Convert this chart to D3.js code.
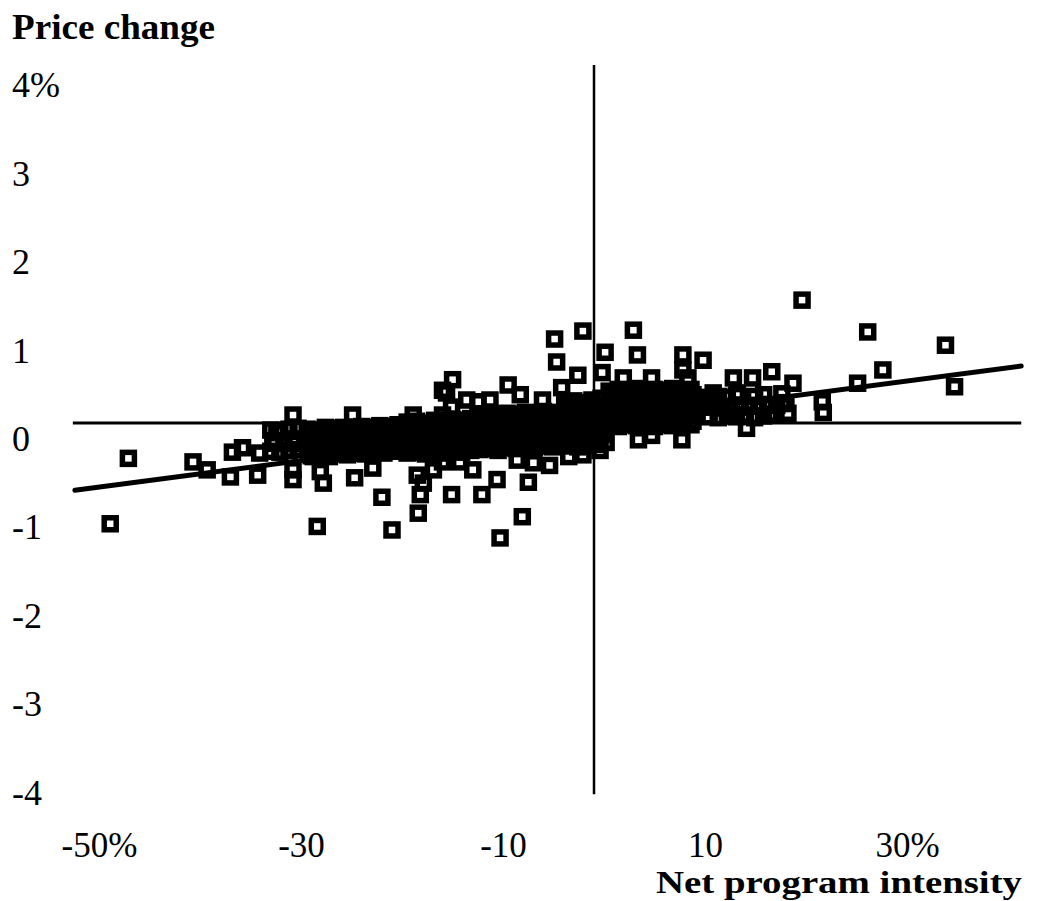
<!DOCTYPE html>
<html lang="en">
<head>
<meta charset="UTF-8">
<title>Price change vs net program intensity</title>
<style>
    html, body { margin: 0; padding: 0; background: #fff; }
    svg { display: block; font-family: "Liberation Serif", "Times New Roman", serif; }
</style>
</head>
<body>
<svg id="svg" width="1044" height="901"></svg>
<script src="https://d3js.org/d3.v7.min.js"></script>
<script>
// axis ticks
const xTicks = [-50, -30, -10, 10, 30]
const xTickLabels = ['-50%', '-30', '-10', '10', '30%']
const yTicks = [4, 3, 2, 1, 0, -1, -2, -3, -4]
const yTickLabels = ['4%', '3', '2', '1', '0', '-1', '-2', '-3', '-4']

// fitted line ends [intensity, price change]
const fitLine = [[-51.4, -0.76], [42.3, 0.645]]

const outliers = [
    [-47.9, -1.14], [-46.1, -0.40], [-39.7, -0.44], [-38.3, -0.53], [-35.8, -0.33], [-34.8, -0.28],
    [-33.1, -0.34], [-36.0, -0.61], [-33.3, -0.59], [-31.4, -0.11], [-31.8, -0.23], [-29.8, 0.09],
    [-29.8, -0.23], [-29.8, -0.53], [-29.8, -0.64], [-27.8, -0.38], [-27.1, -0.55], [-26.8, -0.68],
    [-27.4, -1.17], [-23.9, 0.09], [-24.2, -0.34], [-23.7, -0.62], [-21.9, -0.51], [-21.0, -0.84],
    [-20.0, -1.21], [-17.9, 0.09], [-15.0, 0.37], [-15.0, 0.09], [-17.4, -1.02], [-17.2, -0.81],
    [-17.5, -0.59], [-16.9, -0.68], [-15.9, -0.53], [-15.0, -0.44], [-14.0, 0.49], [-14.6, 0.34],
    [-14.1, 0.18], [-12.6, 0.26], [-11.5, 0.24], [-10.3, 0.26], [-8.5, 0.43], [-7.3, 0.32],
    [-5.1, 0.26], [-3.9, 0.95], [-1.1, 1.04], [-3.7, 0.69], [-3.2, 0.40], [-1.6, 0.54],
    [0.8, 0.57], [1.1, 0.80], [-13.3, -0.44], [-12.0, -0.53], [-14.1, -0.81], [-11.1, -0.81],
    [-9.6, -0.64], [-6.5, -0.67], [-7.1, -1.06], [-9.3, -1.30], [-7.6, -0.42], [-6.0, -0.45],
    [-4.4, -0.48], [0.6, -0.31], [-1.1, -0.36], [-2.5, -0.38], [3.9, 1.05], [4.3, 0.77],
    [8.8, 0.77], [10.8, 0.71], [8.8, 0.60], [9.3, 0.51], [2.9, 0.51], [5.7, 0.51],
    [17.6, 0.58], [13.8, 0.51], [15.7, 0.51], [4.4, -0.19], [8.7, -0.19], [5.7, -0.14],
    [15.1, -0.06], [13.7, 0.09], [17.4, 0.09], [18.7, 0.23], [14.2, 0.34], [11.8, 0.34],
    [10.2, 0.29], [8.3, 0.37], [20.6, 1.39], [27.1, 1.03], [34.8, 0.88], [28.6, 0.60],
    [35.7, 0.41], [26.1, 0.45], [19.7, 0.45], [22.6, 0.24], [22.7, 0.12], [19.2, 0.11],
    [1.0, -0.12], [1.2, -0.22]
]

// the dense cloud around zero
const cloud = [
    [-32.0, -0.08], [-31.1, -0.10], [-30.2, -0.07], [-29.3, -0.06],
    [-31.6, -0.20], [-30.7, -0.21], [-29.8, -0.18],
    [-32.0, -0.32], [-31.1, -0.33], [-30.2, -0.31], [-29.3, -0.30],

    [-28.4, -0.07], [-27.5, -0.08], [-26.6, -0.05], [-25.7, -0.06], [-24.8, -0.05], [-23.9, -0.07],
    [-23.0, -0.04], [-22.1, -0.05], [-21.2, -0.03], [-20.3, -0.04], [-19.4, -0.02],
    [-28.0, -0.18], [-27.1, -0.16], [-26.2, -0.17], [-25.3, -0.15], [-24.4, -0.16], [-23.5, -0.14],
    [-22.6, -0.15], [-21.7, -0.13], [-20.8, -0.14], [-19.9, -0.12],
    [-28.4, -0.28], [-27.5, -0.27], [-26.6, -0.29], [-25.7, -0.26], [-24.8, -0.27], [-23.9, -0.25],
    [-23.0, -0.26], [-22.1, -0.24], [-21.2, -0.25], [-20.3, -0.23], [-19.4, -0.24],
    [-28.0, -0.37], [-27.1, -0.36], [-26.2, -0.38], [-25.3, -0.35], [-24.4, -0.36], [-23.5, -0.34],
    [-22.6, -0.35], [-21.7, -0.33], [-20.8, -0.34], [-19.9, -0.32],

    [-18.5, 0.01], [-17.6, 0.02], [-16.7, 0.00], [-15.8, 0.03], [-14.9, 0.02], [-14.0, 0.04], [-13.1, 0.03], [-12.2, 0.05],
    [-18.1, -0.08], [-17.2, -0.07], [-16.3, -0.09], [-15.4, -0.06], [-14.5, -0.07], [-13.6, -0.05], [-12.7, -0.06],
    [-18.5, -0.17], [-17.6, -0.16], [-16.7, -0.18], [-15.8, -0.15], [-14.9, -0.16], [-14.0, -0.14], [-13.1, -0.15], [-12.2, -0.13],
    [-18.1, -0.26], [-17.2, -0.25], [-16.3, -0.27], [-15.4, -0.24], [-14.5, -0.25], [-13.6, -0.23], [-12.7, -0.24],
    [-18.5, -0.34], [-17.6, -0.33], [-16.7, -0.35], [-15.8, -0.32], [-14.9, -0.34], [-14.0, -0.32], [-13.1, -0.33], [-12.2, -0.31],

    [-11.3, 0.08], [-10.4, 0.10], [-9.5, 0.09], [-8.6, 0.11], [-7.7, 0.10], [-6.8, 0.12], [-5.9, 0.11], [-5.0, 0.13], [-4.1, 0.12],
    [-11.7, -0.01], [-10.8, 0.00], [-9.9, -0.02], [-9.0, 0.01], [-8.1, 0.00], [-7.2, 0.02], [-6.3, 0.01], [-5.4, 0.03], [-4.5, 0.02], [-3.6, 0.04],
    [-11.3, -0.11], [-10.4, -0.10], [-9.5, -0.12], [-8.6, -0.09], [-7.7, -0.10], [-6.8, -0.08], [-5.9, -0.09], [-5.0, -0.07], [-4.1, -0.08],
    [-11.7, -0.21], [-10.8, -0.20], [-9.9, -0.22], [-9.0, -0.19], [-8.1, -0.20], [-7.2, -0.18], [-6.3, -0.19], [-5.4, -0.17], [-4.5, -0.18], [-3.6, -0.16],
    [-11.3, -0.30], [-10.4, -0.29], [-9.5, -0.31], [-8.6, -0.28], [-7.7, -0.29], [-6.8, -0.27], [-5.9, -0.28], [-5.0, -0.26], [-4.1, -0.27],

    [-2.9, 0.22], [-2.0, 0.25], [-1.1, 0.23], [-0.2, 0.26], [0.7, 0.28],
    [-2.5, 0.14], [-1.6, 0.13], [-0.7, 0.15], [0.2, 0.16],
    [-2.9, 0.04], [-2.0, 0.03], [-1.1, 0.05], [-0.2, 0.04], [0.7, 0.06],
    [-2.5, -0.06], [-1.6, -0.07], [-0.7, -0.05], [0.2, -0.04],
    [-2.9, -0.16], [-2.0, -0.17], [-1.1, -0.15], [-0.2, -0.14], [0.7, -0.13],
    [-2.5, -0.26], [-1.6, -0.27], [-0.7, -0.25], [0.2, -0.24],

    [1.5, 0.36], [2.4, 0.38], [3.3, 0.37], [4.2, 0.39], [5.1, 0.36], [6.0, 0.38], [6.9, 0.37], [7.8, 0.39], [8.7, 0.36], [9.6, 0.38],
    [1.9, 0.27], [2.8, 0.26], [3.7, 0.28], [4.6, 0.27], [5.5, 0.29], [6.4, 0.26], [7.3, 0.28], [8.2, 0.27], [9.1, 0.29], [10.0, 0.27],
    [1.5, 0.17], [2.4, 0.16], [3.3, 0.18], [4.2, 0.17], [5.1, 0.19], [6.0, 0.16], [6.9, 0.18], [7.8, 0.17], [8.7, 0.19], [9.6, 0.17], [10.5, 0.18],
    [1.9, 0.07], [2.8, 0.06], [3.7, 0.08], [4.6, 0.07], [5.5, 0.09], [6.4, 0.06], [7.3, 0.08], [8.2, 0.07], [9.1, 0.09], [10.0, 0.08],
    [1.5, -0.03], [2.4, -0.04], [3.3, -0.02], [4.2, -0.03], [5.1, -0.01], [6.0, -0.04], [6.9, -0.02], [7.8, -0.03], [8.7, -0.01], [9.6, -0.02],

    [11.4, 0.28], [12.3, 0.30], [13.2, 0.29], [14.1, 0.31], [15.9, 0.30], [16.8, 0.32], [18.6, 0.33],
    [11.8, 0.18], [12.7, 0.17], [13.6, 0.19], [14.5, 0.18], [15.4, 0.20], [16.3, 0.19], [17.2, 0.21], [18.1, 0.20], [19.0, 0.22],
    [11.4, 0.07], [12.3, 0.06], [13.2, 0.08], [14.1, 0.07], [15.0, 0.09], [15.9, 0.06], [16.8, 0.08], [17.7, 0.10]
]

// further observations packed inside the cloud, between the ones above
const cloudInner = [
    [-28.2, -0.12], [-26.4, -0.11], [-24.6, -0.10], [-22.8, -0.10], [-21.0, -0.08], [-19.6, -0.07],
    [-28.2, -0.22], [-26.4, -0.23], [-24.6, -0.21], [-22.8, -0.20], [-21.0, -0.19], [-19.6, -0.18],
    [-28.2, -0.32], [-26.4, -0.33], [-24.6, -0.31], [-22.8, -0.30], [-21.0, -0.29], [-19.6, -0.28],

    [-18.3, -0.03], [-17.4, -0.02], [-16.5, -0.04], [-15.6, -0.01], [-14.7, -0.03], [-13.8, 0.00], [-12.9, -0.01],
    [-18.3, -0.12], [-17.4, -0.11], [-16.5, -0.13], [-15.6, -0.10], [-14.7, -0.12], [-13.8, -0.09], [-12.9, -0.10],
    [-18.3, -0.21], [-17.4, -0.20], [-16.5, -0.22], [-15.6, -0.19], [-14.7, -0.21], [-13.8, -0.18], [-12.9, -0.19],
    [-18.3, -0.30], [-17.4, -0.29], [-16.5, -0.31], [-15.6, -0.28], [-14.7, -0.29], [-13.8, -0.27], [-12.9, -0.28],

    [-11.5, 0.04], [-10.6, 0.05], [-9.7, 0.04], [-8.8, 0.06], [-7.9, 0.05], [-7.0, 0.07], [-6.1, 0.06], [-5.2, 0.08], [-4.3, 0.07],
    [-11.5, -0.06], [-10.6, -0.05], [-9.7, -0.07], [-8.8, -0.04], [-7.9, -0.05], [-7.0, -0.03], [-6.1, -0.04], [-5.2, -0.02], [-4.3, -0.03],
    [-11.5, -0.16], [-10.6, -0.15], [-9.7, -0.17], [-8.8, -0.14], [-7.9, -0.15], [-7.0, -0.13], [-6.1, -0.14], [-5.2, -0.12], [-4.3, -0.13],
    [-11.5, -0.26], [-10.6, -0.25], [-9.7, -0.26], [-8.8, -0.24], [-7.9, -0.25], [-7.0, -0.23], [-6.1, -0.24], [-5.2, -0.22], [-4.3, -0.23],

    [-2.7, 0.19], [-1.8, 0.18], [-0.9, 0.20], [0.0, 0.21],
    [-2.7, 0.09], [-1.8, 0.08], [-0.9, 0.10], [0.0, 0.11],
    [-2.7, -0.01], [-1.8, -0.02], [-0.9, 0.00], [0.0, 0.01],
    [-2.7, -0.11], [-1.8, -0.12], [-0.9, -0.10], [0.0, -0.09],
    [-2.7, -0.21], [-1.8, -0.22], [-0.9, -0.20], [0.0, -0.19],

    [1.7, 0.32], [2.6, 0.31], [3.5, 0.33], [4.4, 0.32], [5.3, 0.34], [6.2, 0.31], [7.1, 0.33], [8.0, 0.32], [8.9, 0.34], [9.8, 0.32],
    [1.7, 0.22], [2.6, 0.21], [3.5, 0.23], [4.4, 0.22], [5.3, 0.24], [6.2, 0.21], [7.1, 0.23], [8.0, 0.22], [8.9, 0.24], [9.8, 0.22],
    [1.7, 0.12], [2.6, 0.11], [3.5, 0.13], [4.4, 0.12], [5.3, 0.14], [6.2, 0.11], [7.1, 0.13], [8.0, 0.12], [8.9, 0.14], [9.8, 0.12],
    [1.7, 0.02], [2.6, 0.01], [3.5, 0.03], [4.4, 0.02], [5.3, 0.04], [6.2, 0.01], [7.1, 0.03], [8.0, 0.02], [8.9, 0.04], [9.8, 0.02]
]

const svg = d3.select('#svg')

// scales
const xscale = d3.scaleLinear().domain([-50, 30]).range([89, 897])
const yscale = d3.scaleLinear().domain([-4, 4]).range([776.6, 69.4])

// zero lines
svg.append('line')
    .attr('x1', xscale(-51.6)).attr('x2', xscale(42.3))
    .attr('y1', yscale(0)).attr('y2', yscale(0))
    .attr('stroke', '#000').attr('stroke-width', 3)

svg.append('line')
    .attr('x1', xscale(0)).attr('x2', xscale(0))
    .attr('y1', yscale(4.05)).attr('y2', yscale(-4.2))
    .attr('stroke', '#000').attr('stroke-width', 2.5)

// observations as open squares
const size = 12
svg.append('g')
    .selectAll('rect')
    .data(cloud.concat(cloudInner, outliers))
    .enter()
    .append('rect')
    .attr('x', d => xscale(d[0]) - size / 2)
    .attr('y', d => yscale(d[1]) - size / 2)
    .attr('width', size)
    .attr('height', size)
    .attr('fill', 'none')
    .attr('stroke', '#000')
    .attr('stroke-width', 5.5)

// fitted line
svg.append('path')
    .datum(fitLine)
    .attr('d', d3.line().x(d => xscale(d[0])).y(d => yscale(d[1])))
    .attr('stroke', '#000')
    .attr('stroke-width', 5)
    .attr('stroke-linecap', 'round')
    .attr('fill', 'none')

// y axis labels
const leftAxis = d3.axisLeft(yscale)
    .tickValues(yTicks)
    .tickFormat((d, i) => yTickLabels[i])
    .tickSize(0)
    .tickPadding(0)

const yAxisG = svg.append('g')
    .attr('transform', 'translate(12, 0)')
    .call(leftAxis)
yAxisG.select('.domain').remove()
yAxisG.selectAll('text')
    .attr('text-anchor', 'start')
    .attr('x', 0)
    .attr('y', 16)
    .style('font-family', '"Liberation Serif", serif')
    .style('font-size', '36px')
    .attr('fill', '#000')

// x axis labels
const bottomAxis = d3.axisBottom(xscale)
    .tickValues(xTicks)
    .tickFormat((d, i) => xTickLabels[i])
    .tickSize(0)
    .tickPadding(0)

const xAxisG = svg.append('g')
    .attr('transform', 'translate(0, 832)')
    .call(bottomAxis)
xAxisG.select('.domain').remove()
xAxisG.selectAll('text')
    .attr('dx', 10)
    .style('font-family', '"Liberation Serif", serif')
    .style('font-size', '35px')
    .attr('fill', '#000')

// titles
svg.append('text')
    .attr('x', 12)
    .attr('y', 39)
    .attr('textLength', 203)
    .attr('lengthAdjust', 'spacingAndGlyphs')
    .style('font-size', '35px')
    .style('font-weight', 'bold')
    .text('Price change')

svg.append('text')
    .attr('x', 1022)
    .attr('y', 893)
    .attr('text-anchor', 'end')
    .attr('textLength', 366)
    .attr('lengthAdjust', 'spacingAndGlyphs')
    .style('font-size', '31px')
    .style('font-weight', 'bold')
    .text('Net program intensity')
</script>
</body>
</html>
